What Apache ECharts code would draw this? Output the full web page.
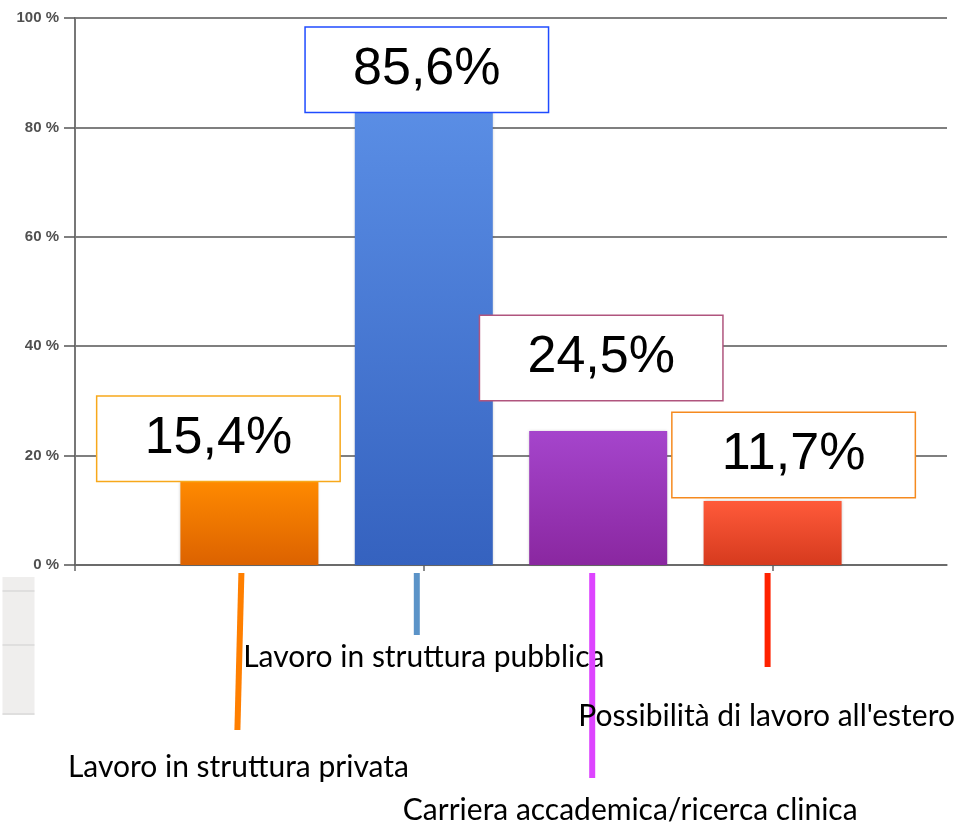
<!DOCTYPE html>
<html>
<head>
<meta charset="utf-8">
<script src="https://cdn.jsdelivr.net/npm/echarts@6/dist/echarts.min.js"></script>
<style>
    html, body { margin: 0; padding: 0; background: #fff; }
    #chart { width: 961px; height: 826px; }
</style>
</head>
<body>
<div id="chart"></div>
<script>
// Data
const categories = ['', 'Lavoro in struttura privata', 'Lavoro in struttura pubblica',
    'Carriera accademica/ricerca clinica', "Possibilità di lavoro all'estero", '']
const values = ['-', 15.4, 85.6, 24.5, 11.7, '-']
const yTicks = [0, 20, 40, 60, 80, 100]

// Styles per bar (top colour, bottom colour, box border, label box offset)
const barTop = [null, '#ff8a00', '#5b8fe6', '#a545cc', '#ff5a3a']
const barBottom = [null, '#dc6200', '#3562bf', '#8a27a0', '#d63a1e']
const boxBorder = [null, '#f7a81b', '#1f4bff', '#b0557e', '#f58a1f']
const boxOffset = [null, [-31, 0], [3, 15], [3, -31], [21, -4]]

// Category annotation styles: leader colour, leader length, text drop, text shift
const leaderColor = [null, '#ff7f00', '#5b93c8', '#dd44ff', '#ff2200']
const leaderLen = [null, 157, 62, 205, 94]
const leaderShift = [null, -10, -7, -6, -5]
const textDrop = [null, 202, 92, 245, 151]
const textShift = [null, -11, 0, 32, -6]

const chart = echarts.init(document.getElementById('chart'))

const barData = values.map((v, i) => {
    if (v === '-') return '-'
    return {
        value: v,
        itemStyle: {
            color: new echarts.graphic.LinearGradient(0, 0, 0, 1, [
                { offset: 0, color: barTop[i] },
                { offset: 1, color: barBottom[i] }
            ]),
            shadowColor: 'rgba(0,0,0,0.25)',
            shadowBlur: 3
        },
        label: {
            show: true,
            position: 'top',
            distance: 0,
            offset: boxOffset[i],
            formatter: v.toFixed(1).replace('.', ',') + '%',
            fontFamily: 'Liberation Sans',
            fontSize: 52,
            color: '#000',
            backgroundColor: '#fff',
            borderColor: boxBorder[i],
            borderWidth: 1.5,
            width: 242,
            height: 84,
            lineHeight: 84,
            align: 'center',
            padding: 0
        }
    }
})

const option = {
    animation: false,
    grid: { left: 75, right: 14, top: 18, bottom: 261 },
    // leftover table strip at the left edge of the screenshot
    graphic: [
        {
            type: 'group',
            left: 0,
            top: 577,
            children: [
                { type: 'rect', shape: { x: 0, y: 0, width: 32, height: 138 }, style: { fill: '#efeeed' } },
                { type: 'line', shape: { x1: 0, y1: 14, x2: 32, y2: 14 }, style: { stroke: '#cfcfcf', lineWidth: 1 } },
                { type: 'line', shape: { x1: 0, y1: 68, x2: 32, y2: 68 }, style: { stroke: '#cfcfcf', lineWidth: 1 } },
                { type: 'line', shape: { x1: 0, y1: 137, x2: 32, y2: 137 }, style: { stroke: '#cfcfcf', lineWidth: 1 } }
            ]
        }
    ],
    xAxis: {
        type: 'category',
        data: categories,
        boundaryGap: false,
        axisLine: { lineStyle: { color: '#666', width: 1.5 } },
        axisTick: { show: true, length: 6, lineStyle: { color: '#666', width: 1.5 } },
        axisLabel: { show: false },
        splitLine: { show: false }
    },
    yAxis: {
        type: 'value',
        min: yTicks[0],
        max: yTicks[yTicks.length - 1],
        interval: 20,
        axisLine: { show: true, lineStyle: { color: '#777', width: 2 } },
        axisTick: { show: true, length: 11, lineStyle: { color: '#555', width: 1.5 } },
        axisLabel: {
            formatter: '{value} %',
            color: '#505050',
            fontFamily: 'Liberation Sans',
            fontSize: 15,
            fontWeight: 'bold',
            margin: 16
        },
        splitLine: { lineStyle: { color: '#555', width: 1.5 } }
    },
    series: [
        {
            type: 'bar',
            data: barData,
            barWidth: 138,
            z: 3
        },
        {
            type: 'custom',
            clip: false,
            silent: true,
            data: [1, 2, 3, 4].map(i => [i, 0]),
            renderItem: (params, api) => {
                const i = api.value(0)
                const p = api.coord([i, 0])
                const x = p[0] + leaderShift[i]
                const tilt = i === 1 ? 2 : 0
                return {
                    type: 'group',
                    children: [
                        {
                            type: 'line',
                            shape: { x1: x + tilt, y1: p[1] + 8, x2: x - tilt, y2: p[1] + 8 + leaderLen[i] },
                            style: { stroke: leaderColor[i], lineWidth: 6 }
                        },
                        {
                            type: 'text',
                            x: p[0] + textShift[i],
                            y: p[1] + textDrop[i],
                            style: {
                                text: categories[i],
                                fill: '#000',
                                font: '30px Lato',
                                align: 'center',
                                verticalAlign: 'middle'
                            }
                        }
                    ]
                }
            }
        }
    ]
}

chart.setOption(option)
</script>
</body>
</html>
